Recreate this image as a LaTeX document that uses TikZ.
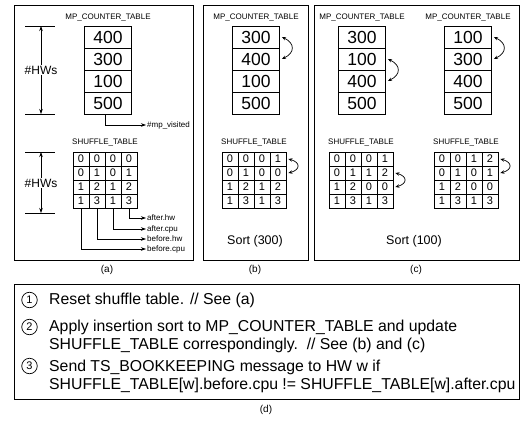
\documentclass[tikz,border=0pt]{standalone}
\usepackage{fontspec}
\setmainfont{Liberation Sans}
\usetikzlibrary{arrows.meta, positioning, calc}

% one column of the counter table: name, x centre, y top, values
\newcommand{\mptable}[4]{%
  \foreach \v [count=\i] in {#4}
    \node[mpcell] (#1-\i) at (#2,{#3+11+(\i-1)*22}) {\v};
}
% 4x4 shuffle table: name, x centre, y top, rows
\newcommand{\shtable}[4]{%
  \foreach \rw [count=\i] in {#4}
    \foreach \v [count=\j] in \rw
      \node[shcell] (#1-\i-\j) at ({#2-24+(\j-1)*16},{#3+7+(\i-1)*14}) {\v};
}

\begin{document}
\begin{tikzpicture}[
    x=1pt, y=-1pt,
    panel/.style={draw, line width=0.8pt},
    mpcell/.style={draw, line width=0.8pt, minimum width=47pt, minimum height=22pt, inner sep=0pt, font=\fontsize{17.5}{17.5}\selectfont},
    shcell/.style={draw, line width=0.8pt, minimum width=16pt, minimum height=14pt, inner sep=0pt, font=\fontsize{11}{11}\selectfont},
    ttl/.style={inner sep=0pt, font=\fontsize{8}{8}\selectfont},
    lbl/.style={inner sep=1pt, anchor=west, font=\fontsize{8}{8}\selectfont},
    hws/.style={inner sep=1pt, font=\fontsize{12}{12}\selectfont},
    sortlbl/.style={font=\fontsize{12.5}{12.5}\selectfont},
    captxt/.style={font=\fontsize{10}{10}\selectfont},
    arr/.style={-{Stealth[length=5pt,width=3.5pt]}, line width=0.6pt},
    swap/.style={{Stealth[length=4pt,width=3.5pt]}-{Stealth[length=4pt,width=3.5pt]}, line width=0.7pt, bend left=65, looseness=1.7},
    swapsm/.style={swap, bend left=75, looseness=2.3},
    num/.style={draw, circle, line width=0.7pt, minimum size=15.5pt, inner sep=0pt, font=\fontsize{11}{11}\selectfont},
    stp/.style={inner sep=0pt, anchor=west, align=left, font=\fontsize{15.8}{18}\selectfont}
  ]
  \useasboundingbox (0,0) rectangle (521,422);

  % panels
  \draw[panel] (14,5) rectangle (193,260);
  \draw[panel] (203,5) rectangle (308,260);
  \draw[panel] (314,5) rectangle (519,260);
  \draw[panel] (14,284) rectangle (519,399);

  % (a)
  \node[ttl] (mpa-t) at (108,18) {MP\_COUNTER\_TABLE};
  \mptable{ma}{108}{26}{400,300,100,500}
  \node[ttl] (sha-t) at (105,143) {SHUFFLE\_TABLE};
  \shtable{sa}{105}{152}{{0,0,0,0},{0,1,0,1},{1,2,1,2},{1,3,1,3}}

  \coordinate (hw1-top) at (41,26);
  \coordinate (hw1-bot) at (41,114);
  \coordinate (hw2-top) at (41,152);
  \coordinate (hw2-bot) at (41,213);
  \foreach \p in {hw1-top,hw1-bot,hw2-top,hw2-bot}
    \draw[line width=0.6pt] ([xshift=-16pt]\p) -- ([xshift=14pt]\p);
  \node[hws] (hw1) at (41,70) {\#HWs};
  \node[hws] (hw2) at (41,183) {\#HWs};
  \draw[arr] (hw1) -- (hw1-top);
  \draw[arr] (hw1) -- (hw1-bot);
  \draw[arr] (hw2) -- (hw2-top);
  \draw[arr] (hw2) -- (hw2-bot);

  \node[lbl] (mpv) at (146,125) {\#mp\_visited};
  \draw[arr] ([xshift=-3pt]ma-4.south) |- (mpv.west);

  \node[lbl] (ahw) at (146,218) {after.hw};
  \node[lbl] (acpu) at (146,229) {after.cpu};
  \node[lbl] (bhw) at (146,239) {before.hw};
  \node[lbl] (bcpu) at (146,249) {before.cpu};
  \draw[arr] (sa-4-4.south) |- (ahw.west);
  \draw[arr] (sa-4-3.south) |- (acpu.west);
  \draw[arr] (sa-4-2.south) |- (bhw.west);
  \draw[arr] (sa-4-1.south) |- (bcpu.west);

  % (b)
  \node[ttl] (mpb-t) at (256,18) {MP\_COUNTER\_TABLE};
  \mptable{mb}{256}{26}{300,400,100,500}
  \draw[swap] ([xshift=2pt]mb-1.east) to ([xshift=2pt]mb-2.east);
  \node[ttl] (shb-t) at (254,143) {SHUFFLE\_TABLE};
  \shtable{sb}{254}{152}{{0,0,0,1},{0,1,0,0},{1,2,1,2},{1,3,1,3}}
  \draw[swapsm] ([xshift=2pt]sb-1-4.east) to ([xshift=2pt]sb-2-4.east);
  \node[sortlbl] (srtb) at (255,241) {Sort (300)};

  % (c)
  \node[ttl] (mpc-t) at (362,18) {MP\_COUNTER\_TABLE};
  \mptable{mc}{362}{26}{300,100,400,500}
  \draw[swap] ([xshift=2pt]mc-2.east) to ([xshift=2pt]mc-3.east);
  \node[ttl] (mpd-t) at (468,18) {MP\_COUNTER\_TABLE};
  \mptable{md}{468}{26}{100,300,400,500}
  \draw[swap] ([xshift=2pt]md-1.east) to ([xshift=2pt]md-2.east);

  \node[ttl] (shc-t) at (361,143) {SHUFFLE\_TABLE};
  \shtable{sc}{361}{152}{{0,0,0,1},{0,1,1,2},{1,2,0,0},{1,3,1,3}}
  \draw[swapsm] ([xshift=2pt]sc-2-4.east) to ([xshift=2pt]sc-3-4.east);
  \node[ttl] (shd-t) at (466,143) {SHUFFLE\_TABLE};
  \shtable{sd}{466}{152}{{0,0,1,2},{0,1,0,1},{1,2,0,0},{1,3,1,3}}
  \draw[swapsm] ([xshift=2pt]sd-1-4.east) to ([xshift=2pt]sd-2-4.east);
  \node[sortlbl] (srtc) at (414,241) {Sort (100)};

  % captions
  \node[captxt] (capa) at (107,270) {(a)};
  \node[captxt] (capb) at (255,270) {(b)};
  \node[captxt] (capc) at (416,270) {(c)};
  \node[captxt] (capd) at (266,410) {(d)};

  % (d)
  \node[num] (n1) at (29.5,300) {1};
  \node[num] (n2) at (29.5,327) {2};
  \node[num] (n3) at (29.5,366) {3};
  \node[stp] (s1) at (49,300) {Reset shuffle table. // See (a)};
  \node[stp] (s2) at (49,336) {Apply insertion sort to MP\_COUNTER\_TABLE and update\\SHUFFLE\_TABLE correspondingly.\ \ // See (b) and (c)};
  \node[stp] (s3) at (49,376) {Send TS\_BOOKKEEPING message to HW w if\\SHUFFLE\_TABLE[w].before.cpu != SHUFFLE\_TABLE[w].after.cpu};
\end{tikzpicture}
\end{document}
